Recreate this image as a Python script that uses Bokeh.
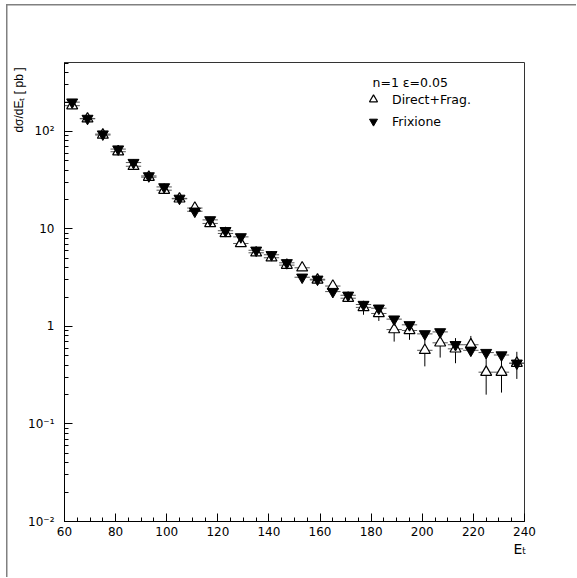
from bokeh.plotting import figure
from bokeh.models import (Range1d, FixedTicker, SingleIntervalTicker, Label,
                          Legend, LegendItem, ColumnDataSource, Title)
from bokeh.embed import file_html
from bokeh.resources import INLINE

# ---------------- data ----------------
et = [63, 69, 75, 81, 87, 93, 99, 105, 111, 117, 123, 129, 135, 141, 147,
      153, 159, 165, 171, 177, 183, 189, 195, 201, 207, 213, 219, 225, 231, 237]
direct = [184, 135, 92, 62, 44, 34, 25, 20.4, 16.4, 11.4, 9.0, 7.1, 5.7, 5.07, 4.26,
          4.0, 3.0, 2.6, 1.95, 1.57, 1.36, 0.93, 0.91, 0.57, 0.68, 0.59, 0.65, 0.34, 0.34, 0.42]
direct_err = [5, 3.5, 2.5, 1.8, 1.3, 1.0, 0.8, 0.6, 0.5, 0.4, 0.3, 0.3, 0.22, 0.2, 0.18,
              0.16, 0.13, 0.12, 0.1, 0.25, 0.22, 0.23, 0.18, 0.18, 0.2, 0.17, 0.15, 0.14, 0.13, 0.13]
frixione = [200, 136, 94, 66, 48, 35, 27, 20.6, 15.2, 12.4, 9.6, 8.3, 6.05, 5.44, 4.5,
            3.2, 3.05, 2.28, 2.09, 1.68, 1.54, 1.19, 1.04, 0.84, 0.88, 0.65, 0.57, 0.54, 0.51, 0.42]
bin_half_width = 3

y_major = [0.01, 0.1, 1, 10, 100]
y_labels = ["10\u207b\u00b2", "10\u207b\u00b9", "1", "10", "10\u00b2"]
x_min, x_max = 60, 240
y_min, y_max = 0.01, 510
legend_title = "n=1 \u03b5=0.05"
label_direct = "Direct+Frag."
label_frix = "Frixione"
y_title = "d\u03c3/dE\u209c [ pb ]"
x_title = "E\u209c"

# ---------------- geometry (page px) ----------------
FL, FT, FR, FB = 64, 62, 524, 521
W, H = 576, 577

p = figure(x_range=Range1d(x_min, x_max), y_range=Range1d(y_min, y_max),
           y_axis_type="log", output_backend="svg", toolbar_location=None,
           frame_width=FR - FL, frame_height=FB - FT,
           min_border_left=FL, min_border_top=FT,
           min_border_right=W - FR, min_border_bottom=H - FB)
# outer grey frame lines (left and top), drawn behind a transparent border area
p.styles = {"background-color": "#ffffff",
            "background-image": "linear-gradient(#808080, #808080), linear-gradient(#808080, #808080)",
            "background-position": "6px 4px, 6px 4px",
            "background-size": f"1.5px {H + 10}px, {W + 10}px 1.5px",
            "background-repeat": "no-repeat, no-repeat"}
p.grid.visible = False
p.background_fill_color = "white"
p.border_fill_alpha = 0
p.outline_line_color = "#333333"
p.outline_line_width = 1

# axes
xa = p.xaxis[0]
xa.ticker = SingleIntervalTicker(interval=20, num_minor_ticks=4)
ya = p.yaxis[0]
ya.ticker = FixedTicker(ticks=y_major,
                        minor_ticks=[m * 10 ** k for k in range(-2, 3) for m in range(2, 10)])
for ax in (xa, ya):
    ax.major_tick_in = 8
    ax.major_tick_out = 0
    ax.minor_tick_in = 4
    ax.minor_tick_out = 0
    ax.axis_line_color = "black"
    ax.major_tick_line_color = "black"
    ax.minor_tick_line_color = "black"
    ax.major_label_text_font = "DejaVu Sans"
    ax.major_label_text_font_size = "12px"
    ax.major_label_text_color = "black"
xa.major_label_standoff = 5
ya.major_label_standoff = 10
ya.major_label_overrides = {v: t for v, t in zip(y_major, y_labels)}

# error bars
src_d = ColumnDataSource(dict(
    x=et, y=direct,
    x0=[x - bin_half_width for x in et], x1=[x + bin_half_width for x in et],
    lo=[v - e for v, e in zip(direct, direct_err)], hi=[v + e for v, e in zip(direct, direct_err)]))
src_f = ColumnDataSource(dict(
    x=et, y=frixione,
    x0=[x - bin_half_width for x in et], x1=[x + bin_half_width for x in et]))

p.segment(x0="x0", x1="x1", y0="y", y1="y", source=src_d, line_color="#555555", line_width=1)
p.segment(x0="x0", x1="x1", y0="y", y1="y", source=src_f, line_color="#555555", line_width=1)
p.segment(x0="x", x1="x", y0="lo", y1="hi", source=src_d, line_color="black", line_width=1)

r_dir = p.scatter("x", "y", source=src_d, marker="triangle", size=11,
                  fill_color="white", line_color="black", line_width=1.2)
r_frix = p.scatter("x", "y", source=src_f, marker="inverted_triangle", size=11,
                   fill_color="black", line_color="black", line_width=1)

# legend
legend = Legend(items=[LegendItem(label=label_direct, renderers=[r_dir]),
                       LegendItem(label=label_frix, renderers=[r_frix])],
                location=(363 - FL, FB - 131), padding=0, spacing=2, margin=0,
                label_standoff=9, glyph_width=20, glyph_height=20, label_height=20,
                border_line_color=None, background_fill_alpha=0,
                label_text_font="DejaVu Sans", label_text_font_size="12.5px",
                label_text_color="black")
p.add_layout(legend)

p.add_layout(Label(x=x_min, y=y_max, x_offset=308, y_offset=-20, text=legend_title,
                   text_font="DejaVu Sans", text_font_size="12.5px",
                   text_align="left", text_baseline="middle", text_color="black"))

# axis titles
p.add_layout(Title(text=y_title, align="right", offset=5, standoff=0,
                   text_font="Liberation Sans", text_font_size="12px",
                   text_font_style="normal", text_color="black"), "left")
p.add_layout(Title(text=x_title, align="right", offset=-2, standoff=0,
                   text_font="DejaVu Sans", text_font_size="14px",
                   text_font_style="normal", text_color="black"), "below")

open("out.html", "w").write(file_html(p, INLINE))
